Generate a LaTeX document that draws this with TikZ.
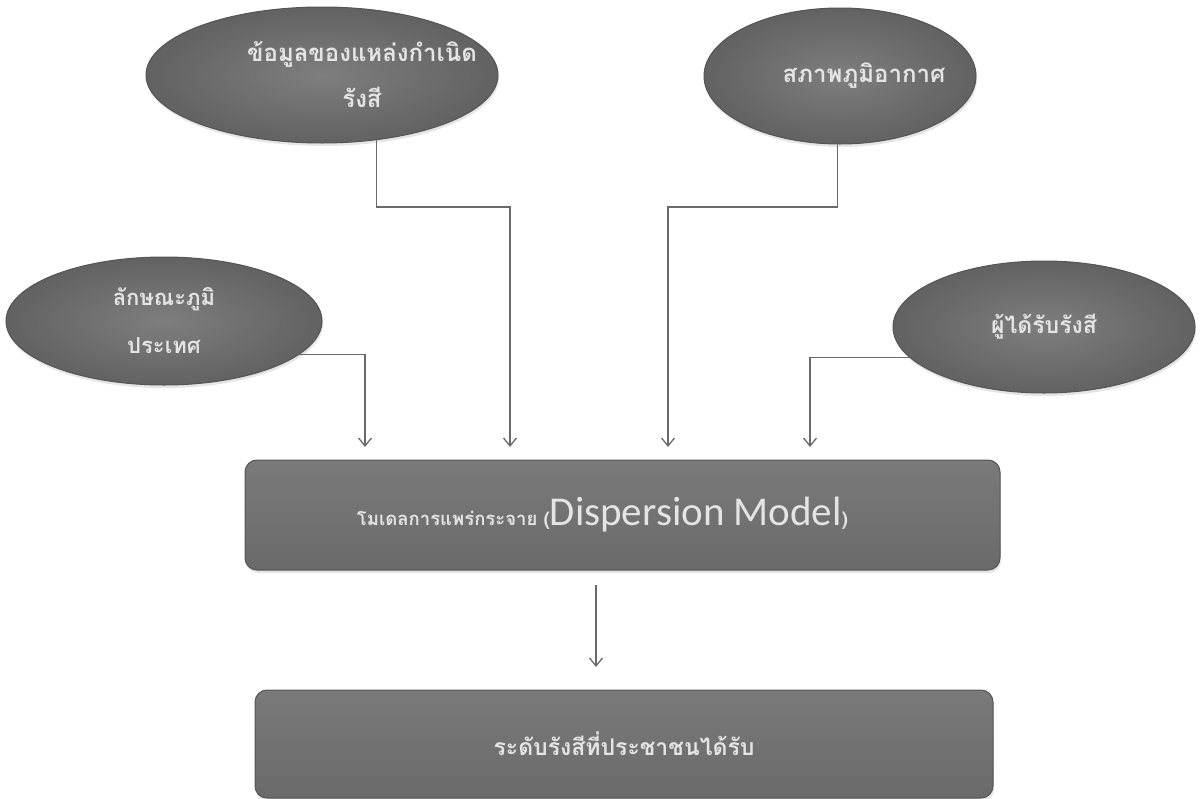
\documentclass[tikz,border=0pt]{standalone}
\usepackage{fontspec}
\newfontfamily\thaifont[Script=Thai]{Loma}
\newfontfamily\latinfont{Carlito}
\usetikzlibrary{shapes.geometric,arrows.meta,shadows}
\definecolor{blobin}{HTML}{7E7E7E}
\definecolor{blobout}{HTML}{626262}
\definecolor{boxtop}{HTML}{7A7A7A}
\definecolor{boxbot}{HTML}{6A6A6A}
\definecolor{nodeedge}{HTML}{555555}
\definecolor{nodetext}{HTML}{E4E4E4}
\definecolor{linecol}{HTML}{6A6A6A}
\newcommand{\shiftline}[2]{\makebox[0pt]{\hspace*{#1}#2}}
\tikzset{
  blob/.style={ellipse, draw=nodeedge, line width=1pt, inner color=blobin, outer color=blobout,
    inner sep=0pt, outer sep=0pt, text=nodetext, align=center,
    font=\thaifont\bfseries\fontsize{22}{48}\selectfont,
    drop shadow={shadow xshift=1pt, shadow yshift=-3pt, opacity=0.2}},
  panel/.style={rectangle, rounded corners=12pt, draw=nodeedge, line width=1pt, top color=boxtop, bottom color=boxbot,
    inner sep=0pt, outer sep=0pt, text=nodetext, align=center,
    drop shadow={shadow xshift=1pt, shadow yshift=-3pt, opacity=0.2}},
  conn/.style={draw=linecol, line width=1.3pt, -{Straight Barb[length=8pt,width=13pt,line width=1.3pt]}}
}
\begin{document}
\begin{tikzpicture}[x=1pt,y=-1pt]
\useasboundingbox[fill=white] (0,0) rectangle (1201,798);
% ellipses
\node[blob, minimum width=352pt, minimum height=136pt, font=\thaifont\bfseries\fontsize{24}{46}\selectfont] (e1) at (322,75)
  {\shiftline{80pt}{ข้อมูลของแหล่งกำเนิด}\\\shiftline{80pt}{รังสี}};
\node[blob, minimum width=272pt, minimum height=136pt, font=\thaifont\bfseries\fontsize{24}{46}\selectfont] (e2) at (840,76)
  {\shiftline{48pt}{สภาพภูมิอากาศ}};
\node[blob, minimum width=316pt, minimum height=128pt] (e3) at (164,321) {ลักษณะภูมิ\\ประเทศ};
\node[blob, minimum width=302pt, minimum height=132pt, font=\thaifont\bfseries\fontsize{23}{46}\selectfont] (e4) at (1044,327) {ผู้ได้รับรังสี};
% boxes
\node[panel, minimum width=755pt, minimum height=110pt] (b1) at (622.5,515)
  {\thaifont\bfseries\fontsize{18.5}{24}\selectfont โมเดลการแพร่กระจาย (\latinfont\mdseries\fontsize{41}{44}\selectfont Dispersion Model\thaifont\bfseries\fontsize{18.5}{24}\selectfont)\hspace*{40pt}};
\node[panel, minimum width=738pt, minimum height=108pt] (b2) at (624,744)
  {\thaifont\bfseries\fontsize{23}{28}\selectfont ระดับรังสีที่ประชาชนได้รับ};
% arrow targets
\coordinate (t1) at (365,447);
\coordinate (t2) at (510,447);
\coordinate (t3) at (668,447);
\coordinate (t4) at (810,447);
\coordinate (m1) at (596,585);
\coordinate (m2) at (596,667);
% connectors
\draw[conn] (e3.-14) -| (t1);
\draw[conn] (e1.310) -- (e1.310 |- 0,207) -| (t2);
\draw[conn] (e2.268) -- (e2.268 |- 0,207) -| (t3);
\draw[conn] (e4.193) -| (t4);
\draw[conn] (m1) -- (m2);
\end{tikzpicture}
\end{document}
